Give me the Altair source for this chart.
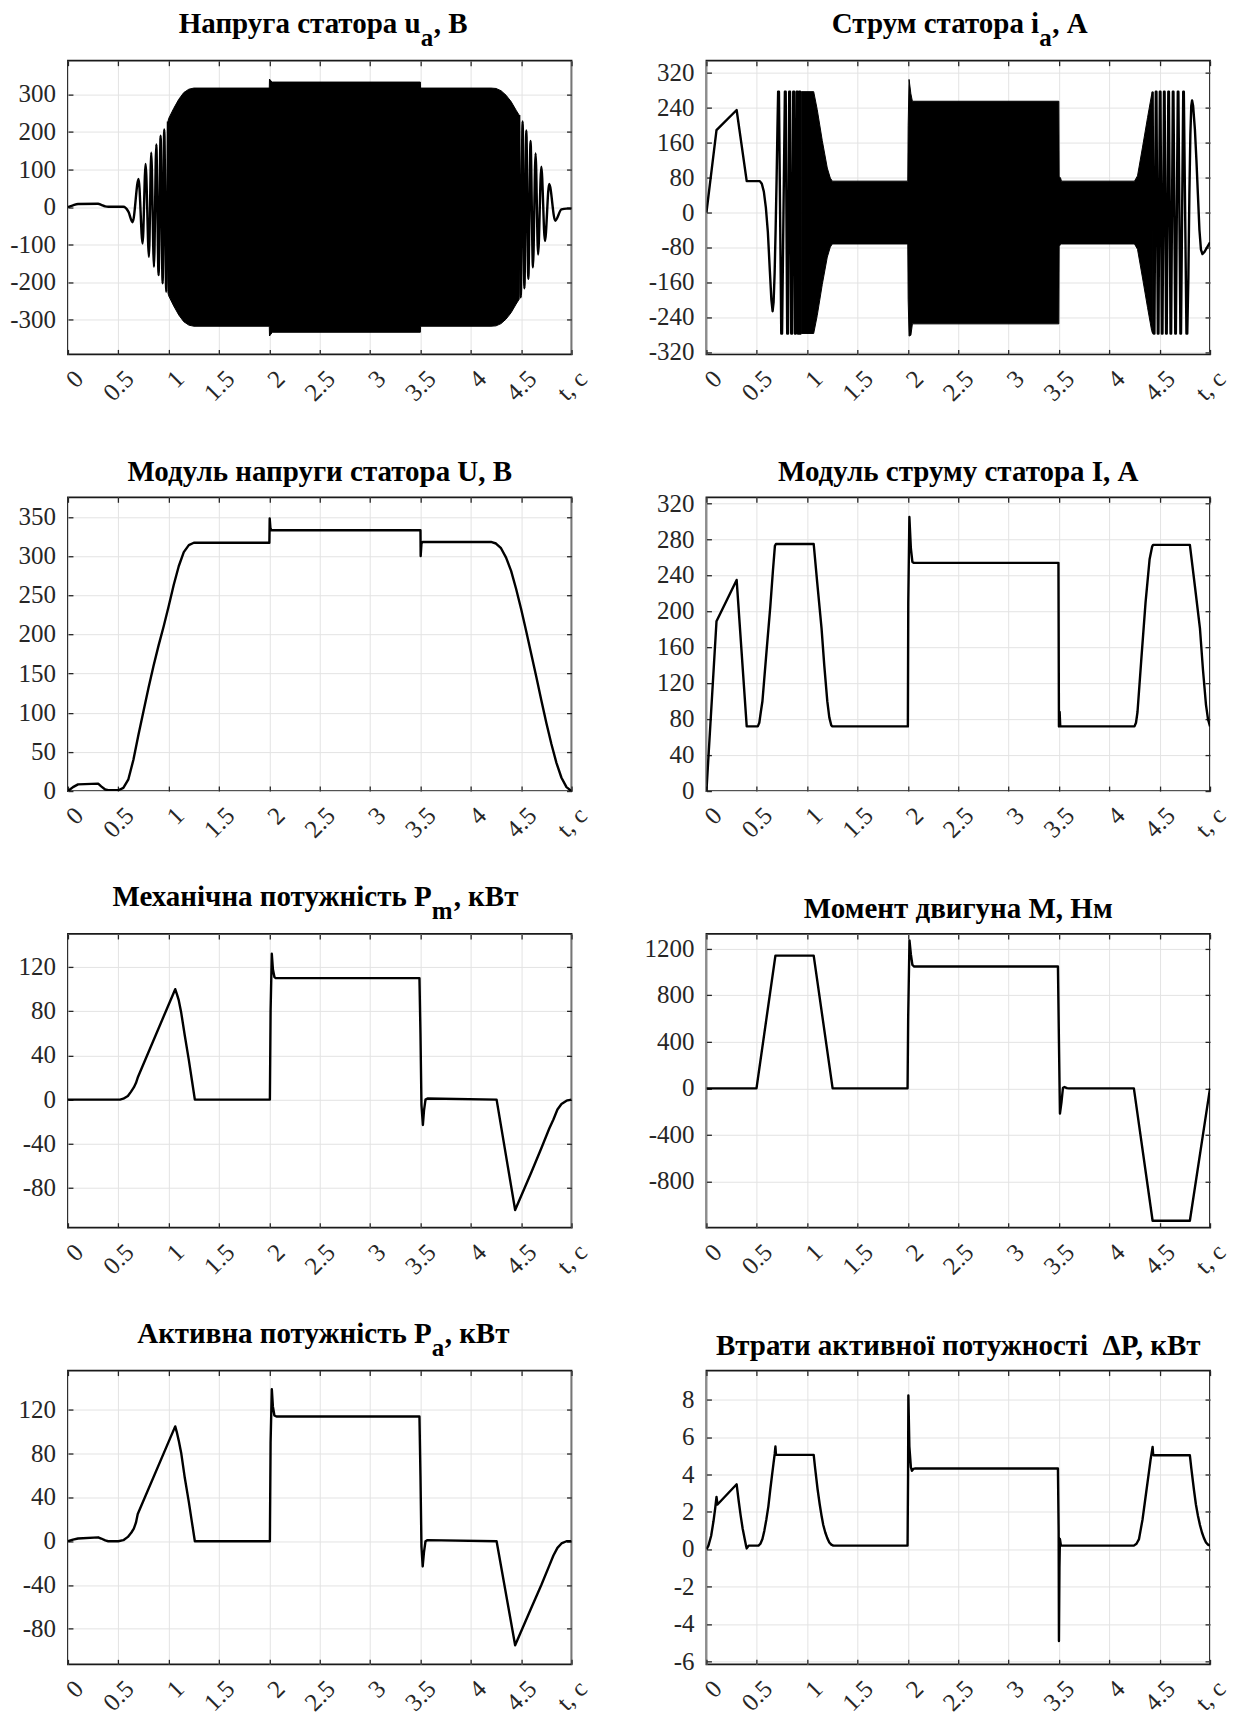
import altair as alt
import pandas as pd

FONT = "Liberation Serif"
INK = "#262626"
GRID = "#e3e3e3"
W, H = 504, 294

X_TICKS = [0, 0.5, 1, 1.5, 2, 2.5, 3, 3.5, 4, 4.5, 5]
X_LABELS = ["0", "0.5", "1", "1.5", "2", "2.5", "3", "3.5", "4", "4.5", "t, c"]

# ---------------- Panel 1: stator voltage u_a, V ----------------
UA_Y_TICKS = [-300, -200, -100, 0, 100, 200, 300]
UA_START = [(0, 0), (0.05, 5), (0.1, 8.5), (0.3, 9), (0.33, 6), (0.37, 2), (0.4, 1), (0.55, 1),
            (0.6, -12), (0.642, -40), (0.701, 75), (0.741, -97), (0.771, 115), (0.804, -132),
            (0.827, 145), (0.854, -159), (0.877, 167), (0.9, -181), (0.92, 190), (0.94, -203),
            (0.956, 207), (0.976, -225), (0.993, 228)]
UA_BAND = [(0.993, 228, -228), (1.0, 236, -236), (1.05, 263, -263), (1.1, 287, -287),
           (1.15, 305, -305), (1.2, 314, -314), (1.25, 317, -317), (1.999, 317, -317),
           (2.001, 341, -343), (2.015, 336, -338), (2.03, 333, -333), (3.499, 333, -333),
           (3.501, 317, -317), (4.2, 317, -317), (4.25, 316, -316), (4.3, 310, -310),
           (4.35, 298, -298), (4.4, 281, -281), (4.45, 258, -258), (4.48, 245, -245)]
UA_END = [(4.48, 245), (4.496, -240), (4.514, 228), (4.532, -216), (4.551, 204), (4.571, -191),
          (4.593, 176), (4.617, -160), (4.643, 143), (4.668, -126), (4.7, 108), (4.736, -90),
          (4.778, 62), (4.838, -36), (4.9, -6), (4.95, -4), (5.0, -4)]

# ---------------- Panel 2: stator current i_a, A ----------------
IA_Y_TICKS = [-320, -240, -160, -80, 0, 80, 160, 240, 320]
IA_START = [(0, 0), (0.1, 189), (0.3, 235), (0.4, 72), (0.53, 72), (0.55, 66), (0.57, 48),
            (0.59, 12), (0.61, -45), (0.63, -135), (0.645, -200), (0.657, -226), (0.667, -205),
            (0.677, -140), (0.687, -40), (0.697, 80), (0.705, 190), (0.712, 277), (0.72, 277),
            (0.743, -277), (0.751, -277), (0.779, 277), (0.787, 277), (0.802, -277), (0.81, -277),
            (0.822, 277), (0.83, 277), (0.842, -277), (0.85, -277), (0.862, 277), (0.87, 277),
            (0.879, -277), (0.887, -277), (0.896, 277), (0.904, 277), (0.909, -277), (0.917, -277),
            (0.922, 277), (0.93, 277), (0.934, -277), (0.942, -277)]
IA_BAND = [(0.942, 277, -277), (1.065, 277, -277), (1.1, 236, -236), (1.15, 165, -165),
           (1.2, 102, -102), (1.23, 79, -79), (1.25, 72, -72), (1.999, 72, -72),
           (2.003, 200, -200), (2.012, 305, -283), (2.03, 272, -281), (2.045, 255, -255),
           (3.499, 255, -255), (3.502, 82, -76), (3.515, 80, -74), (3.525, 72, -72),
           (4.25, 72, -72), (4.28, 84, -84), (4.33, 150, -150), (4.38, 218, -218),
           (4.42, 270, -270), (4.43, 277, -277)]
IA_END = [(4.43, 277), (4.442, -277), (4.448, -277), (4.462, 277), (4.468, 277), (4.482, -277),
          (4.488, -277), (4.502, 277), (4.508, 277), (4.522, -277), (4.528, -277), (4.543, 277),
          (4.549, 277), (4.564, -277), (4.57, -277), (4.586, 277), (4.592, 277), (4.608, -277),
          (4.614, -277), (4.631, 277), (4.637, 277), (4.655, -277), (4.661, -277), (4.68, 277),
          (4.686, 277), (4.706, -277), (4.712, -277), (4.734, 277), (4.74, 277), (4.766, -277),
          (4.774, -277), (4.785, -150), (4.795, 40), (4.805, 180), (4.814, 245), (4.822, 257),
          (4.832, 245), (4.85, 190), (4.865, 120), (4.88, 40), (4.895, -40), (4.91, -85),
          (4.925, -95), (4.945, -90), (4.97, -80), (5.0, -68)]

# ---------------- Panel 3: voltage modulus U, V ----------------
U_Y_TICKS = [0, 50, 100, 150, 200, 250, 300, 350]
U_SERIES = [(0, 0), (0.05, 5), (0.1, 8.5), (0.3, 9.5), (0.33, 6), (0.37, 2), (0.4, 1), (0.5, 1),
            (0.55, 4), (0.6, 15), (0.65, 40), (0.7, 72), (0.75, 102), (0.8, 132), (0.85, 160),
            (0.9, 186), (0.95, 210), (1.0, 236), (1.05, 263), (1.1, 287), (1.15, 305), (1.2, 314),
            (1.25, 317), (2.0, 317), (2.003, 348), (2.01, 336), (2.02, 333), (3.5, 333),
            (3.502, 300), (3.51, 316), (3.52, 318), (4.2, 318), (4.25, 316), (4.3, 310),
            (4.35, 298), (4.4, 281), (4.45, 258), (4.5, 232), (4.55, 204), (4.6, 175), (4.65, 146),
            (4.7, 116), (4.75, 87), (4.8, 60), (4.85, 36), (4.9, 17), (4.95, 5), (5.0, 0)]

# ---------------- Panel 4: current modulus I, A ----------------
I_Y_TICKS = [0, 40, 80, 120, 160, 200, 240, 280, 320]
I_SERIES = [(0, 0), (0.1, 189), (0.3, 235), (0.4, 72), (0.51, 72), (0.525, 76), (0.54, 88),
            (0.556, 100), (0.6, 160), (0.634, 205), (0.66, 245), (0.68, 273), (0.69, 275),
            (1.065, 275), (1.1, 232), (1.143, 181), (1.17, 140), (1.2, 100), (1.22, 82),
            (1.24, 73), (1.25, 72), (2.0, 72), (2.004, 210), (2.015, 305), (2.03, 270),
            (2.045, 255), (2.06, 254), (3.495, 254), (3.5, 72), (3.507, 88), (3.513, 72),
            (4.25, 72), (4.265, 76), (4.28, 88), (4.32, 150), (4.36, 210), (4.4, 258),
            (4.425, 272), (4.435, 274), (4.8, 274), (4.85, 228), (4.9, 181), (4.93, 135),
            (4.96, 96), (4.98, 80), (5.0, 72)]

# ---------------- Panel 5: mechanical power Pm, kW ----------------
PM_Y_TICKS = [-80, -40, 0, 40, 80, 120]
PM_SERIES = [(0, 0), (0.517, 0), (0.55, 0.8), (0.595, 3.3), (0.625, 7), (0.654, 11), (0.675, 15),
             (0.693, 20), (1.065, 100), (1.08, 96), (1.1, 90), (1.124, 79), (1.16, 58), (1.2, 36),
             (1.23, 18), (1.26, 0), (2.0, 0), (2.005, 0), (2.012, 80), (2.024, 132), (2.035, 118),
             (2.05, 111), (2.063, 110), (3.49, 110), (3.5, 60), (3.51, -5), (3.524, -23),
             (3.535, -10), (3.55, 0), (3.57, 1), (4.256, 0), (4.44, -100), (4.6, -66),
             (4.7, -44), (4.78, -26), (4.82, -18), (4.86, -9), (4.9, -4), (4.95, -1), (5.0, 0)]

# ---------------- Panel 6: motor torque M, Nm ----------------
M_Y_TICKS = [-800, -400, 0, 400, 800, 1200]
M_SERIES = [(0, 0), (0.497, 0), (0.685, 1140), (1.065, 1140), (1.253, 0), (1.997, 0),
            (2.003, 600), (2.016, 1270), (2.03, 1150), (2.045, 1060), (2.063, 1046),
            (3.49, 1046), (3.5, 400), (3.51, -217), (3.525, -120), (3.54, 5), (3.555, 11),
            (3.58, 2), (3.6, 0), (4.244, 0), (4.43, -1137), (4.8, -1137), (5.0, 0)]

# ---------------- Panel 7: active power Pa, kW ----------------
PA_Y_TICKS = [-80, -40, 0, 40, 80, 120]
PA_SERIES = [(0, 0), (0.05, 1.5), (0.1, 2.5), (0.3, 3.6), (0.33, 2.5), (0.37, 0.8), (0.4, 0),
             (0.5, 0), (0.55, 1), (0.595, 4), (0.63, 8), (0.654, 11.5), (0.675, 17), (0.693, 25),
             (1.065, 105), (1.08, 100), (1.1, 92), (1.124, 81), (1.16, 58), (1.2, 36), (1.23, 18),
             (1.26, 0), (2.0, 0), (2.005, 0), (2.012, 90), (2.024, 139), (2.035, 123),
             (2.05, 115), (2.07, 114), (3.49, 114), (3.5, 60), (3.51, -5), (3.522, -23),
             (3.535, -10), (3.55, 0), (3.57, 1), (4.256, 0), (4.44, -95), (4.6, -61), (4.7, -40),
             (4.78, -22), (4.82, -13), (4.86, -6), (4.9, -2), (4.95, 0), (5.0, 0)]

# ---------------- Panel 8: active power losses dP, kW ----------------
DP_Y_TICKS = [-6, -4, -2, 0, 2, 4, 6, 8]
DP_SERIES = [(0, 0), (0.02, 0.2), (0.047, 0.73), (0.07, 1.5), (0.086, 2.15), (0.1, 2.8),
             (0.11, 2.4), (0.3, 3.48), (0.32, 2.6), (0.34, 1.8), (0.36, 1.1), (0.38, 0.55),
             (0.395, 0.15), (0.4, 0.05), (0.42, 0.2), (0.517, 0.2), (0.536, 0.3), (0.556, 0.55),
             (0.575, 1.0), (0.595, 1.6), (0.615, 2.3), (0.634, 3.2), (0.65, 3.9), (0.666, 4.6),
             (0.678, 5.1), (0.685, 5.5), (0.69, 5.1), (0.697, 5.05), (1.065, 5.05), (1.08, 4.3),
             (1.104, 3.2), (1.125, 2.4), (1.143, 1.8), (1.16, 1.3), (1.18, 0.9), (1.2, 0.6),
             (1.22, 0.37), (1.24, 0.25), (1.26, 0.2), (1.997, 0.2), (2.002, 4), (2.005, 8.23),
             (2.015, 5.5), (2.03, 4.4), (2.04, 4.2), (2.055, 4.3), (2.075, 4.33), (3.49, 4.32),
             (3.497, 1), (3.5, -4.9), (3.505, -1), (3.51, 0.55), (3.52, 0.2), (4.244, 0.2),
             (4.27, 0.3), (4.295, 0.55), (4.31, 1.0), (4.33, 1.6), (4.35, 2.4), (4.37, 3.2),
             (4.39, 4.0), (4.41, 4.8), (4.425, 5.3), (4.43, 5.48), (4.435, 5.1), (4.44, 5.03),
             (4.8, 5.03), (4.815, 4.3), (4.84, 3.2), (4.86, 2.4), (4.88, 1.8), (4.9, 1.3),
             (4.92, 0.9), (4.94, 0.6), (4.96, 0.37), (4.98, 0.25), (5.0, 0.2)]

LABEL_SIZE = 25
TITLE_SIZE = 29
SUB_SIZE = 25


def grid_axis(vals, left_col=False):
    return alt.Axis(values=vals, labels=False, ticks=False, tickSize=0, domain=False,
                    grid=True, gridColor=GRID, gridWidth=1, title=None,
                    minExtent=59 if left_col else 0)


def tick_axis(orient, vals):
    return alt.Axis(orient=orient, values=vals, offset=-5, ticks=True, tickSize=5,
                    tickColor=INK, tickWidth=1.3, labels=False, domain=False,
                    grid=False, title=None, minExtent=0, maxExtent=0)


ONE = pd.DataFrame({"k": [0]})


def txt(s, x, y, align, size=TITLE_SIZE):
    return alt.Chart(ONE).mark_text(text=s, font=FONT, fontSize=size, fontWeight="bold",
                                    align=align, baseline="alphabetic", color="black").encode(
        x=alt.value(x), y=alt.value(y))


def title_plain(s):
    return [txt(s, W / 2, -16, "center")]


def title_sub(head, sub, tail, xs, subw):
    return [txt(head, xs, -27.5, "right"),
            txt(sub, xs, -15, "left", SUB_SIZE),
            txt(tail, xs + subw, -27.5, "left")]


def build_panel(ydom, yticks, series, titles, left_col):
    xs = alt.Scale(domain=[0, 5], nice=False, zero=False)
    ys = alt.Scale(domain=ydom, nice=False, zero=False)
    layers = []
    for i, (kind, data) in enumerate(series):
        xa = grid_axis(X_TICKS) if i == 0 else None
        ya = grid_axis(yticks, left_col) if i == 0 else None
        if kind == "area":
            d = pd.DataFrame(data, columns=["t", "hi", "lo"])
            ch = alt.Chart(d).mark_area(color="black", stroke="black", strokeWidth=1,
                                        interpolate="linear", clip=True).encode(
                x=alt.X("t:Q", scale=xs, axis=xa),
                y=alt.Y("lo:Q", scale=ys, axis=ya),
                y2="hi:Q")
        else:
            d = pd.DataFrame(data, columns=["t", "v"])
            ch = alt.Chart(d).mark_line(color="black", strokeWidth=2.4, interpolate=kind,
                                        strokeJoin="round", clip=True).encode(
                x=alt.X("t:Q", scale=xs, axis=xa),
                y=alt.Y("v:Q", scale=ys, axis=ya))
        layers.append(ch)
    # inward ticks on all four sides
    corners = pd.DataFrame({"t": [0, 5], "v": list(ydom)})
    for xo, yo in (("bottom", "left"), ("top", "right")):
        layers.append(alt.Chart(corners).mark_point(opacity=0).encode(
            x=alt.X("t:Q", scale=xs, axis=tick_axis(xo, X_TICKS)),
            y=alt.Y("v:Q", scale=ys, axis=tick_axis(yo, yticks))))
    # tick labels
    ylab = pd.DataFrame({"v": yticks, "s": [f"{v:g}" for v in yticks]})
    layers.append(alt.Chart(ylab).mark_text(font=FONT, fontSize=LABEL_SIZE, color=INK,
                                            align="right", baseline="middle", dx=-12).encode(
        x=alt.value(0), y=alt.Y("v:Q", scale=ys, axis=None), text="s:N"))
    xlab = pd.DataFrame({"t": X_TICKS, "s": X_LABELS})
    layers.append(alt.Chart(xlab).mark_text(font=FONT, fontSize=LABEL_SIZE, color=INK,
                                            angle=315, align="right", baseline="top",
                                            dx=2, dy=2).encode(
        x=alt.X("t:Q", scale=xs, axis=None), y=alt.value(H + 12), text="s:N"))
    layers.extend(titles)
    return alt.layer(*layers).resolve_axis(x="independent", y="independent").properties(
        width=W, height=H)


p1 = build_panel([-392, 390], UA_Y_TICKS,
                 [("area", UA_BAND), ("monotone", UA_START), ("monotone", UA_END)],
                 title_sub("Напруга статора u", "a", ", В", 353, 13), True)
p2 = build_panel([-325, 348], IA_Y_TICKS,
                 [("area", IA_BAND), ("linear", IA_START), ("linear", IA_END)],
                 title_sub("Струм статора i", "a", ", А", 333, 13), False)
p3 = build_panel([0, 375], U_Y_TICKS, [("linear", U_SERIES)],
                 title_plain("Модуль напруги статора U, В"), True)
p4 = build_panel([0, 327], I_Y_TICKS, [("linear", I_SERIES)],
                 title_plain("Модуль струму статора I, А"), False)
p5 = build_panel([-116, 150], PM_Y_TICKS, [("linear", PM_SERIES)],
                 title_sub("Механічна потужність P", "m", ", кВт", 364, 22), True)
p6 = build_panel([-1197, 1326], M_Y_TICKS, [("linear", M_SERIES)],
                 title_plain("Момент двигуна М, Нм"), False)
p7 = build_panel([-112.5, 156], PA_Y_TICKS, [("linear", PA_SERIES)],
                 title_sub("Активна потужність P", "a", ", кВт", 364, 13), True)
p8 = build_panel([-6.15, 9.56], DP_Y_TICKS, [("linear", DP_SERIES)],
                 title_plain("Втрати активної потужності\u00a0\u00a0ΔP, кВт"), False)

chart = alt.concat(p1, p2, p3, p4, p5, p6, p7, p8, columns=2,
                   spacing={"row": 143, "column": 135}, bounds="flush").properties(
    padding={"left": 0, "top": 0, "right": 0, "bottom": 0}
).configure_view(stroke="#1a1a1a", strokeWidth=1.8)

chart.save("out.html", embed_options={"renderer": "svg", "actions": False})
